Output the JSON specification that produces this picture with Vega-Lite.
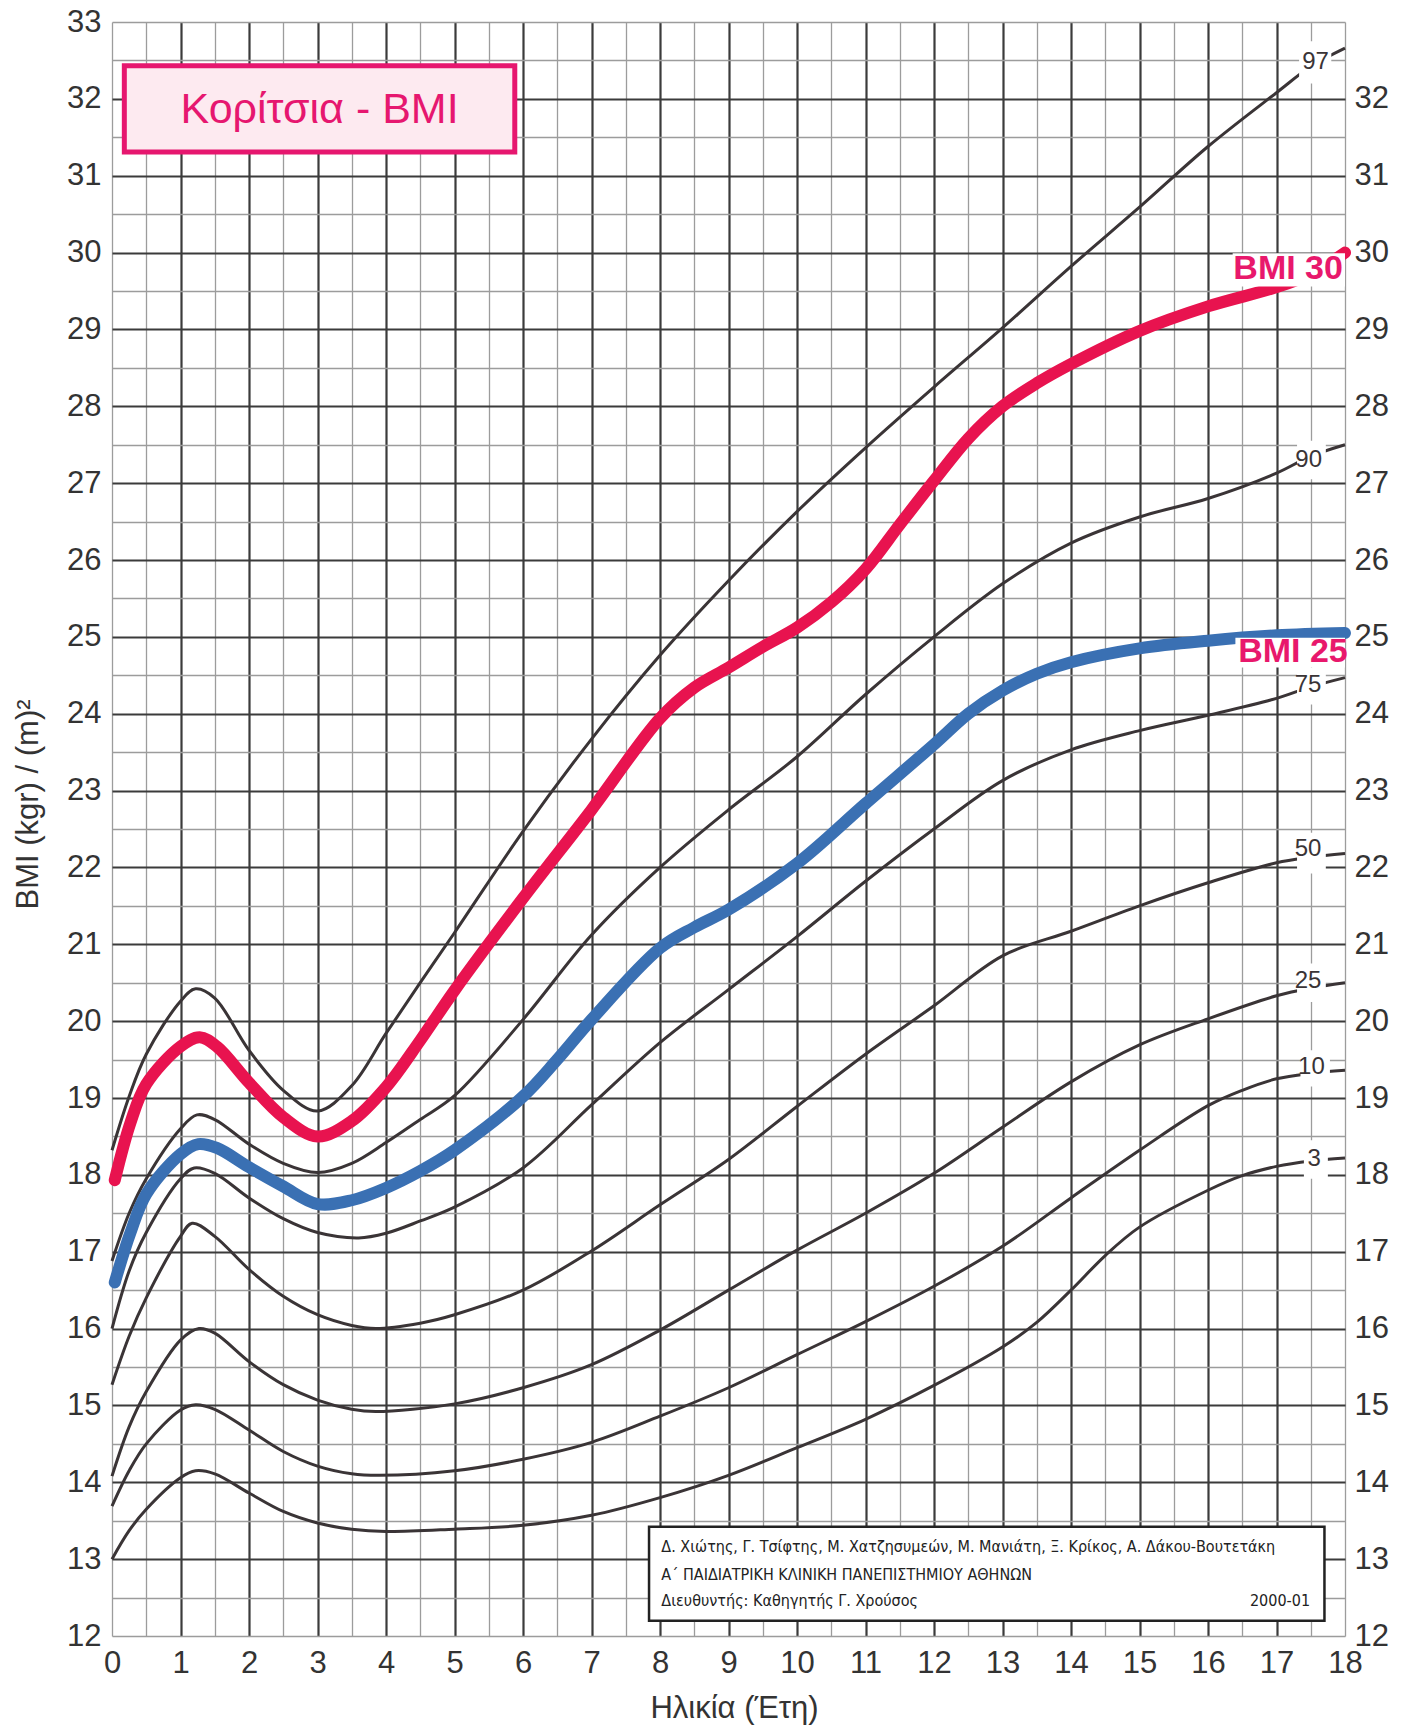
{
  "$schema": "https://vega.github.io/schema/vega-lite/v6.json",
  "width": 1233,
  "height": 1614,
  "autosize": {"type": "none"},
  "padding": {"left": 112, "top": 22, "right": 64, "bottom": 90},
  "background": "white",
  "config": {"view": {"stroke": null}, "font": "Liberation Sans"},
  "datasets": {
    "percentiles": [
      {"p": "97", "age": 0, "bmi": 18.32}, {"p": "97", "age": 0.25, "bmi": 19.02}, {"p": "97", "age": 0.5, "bmi": 19.57}, {"p": "97", "age": 1, "bmi": 20.26}, {"p": "97", "age": 1.22, "bmi": 20.42}, {"p": "97", "age": 1.5, "bmi": 20.3}, {"p": "97", "age": 2, "bmi": 19.62}, {"p": "97", "age": 2.5, "bmi": 19.1}, {"p": "97", "age": 3, "bmi": 18.83}, {"p": "97", "age": 3.5, "bmi": 19.16}, {"p": "97", "age": 4, "bmi": 19.84}, {"p": "97", "age": 4.5, "bmi": 20.5}, {"p": "97", "age": 5, "bmi": 21.15}, {"p": "97", "age": 6, "bmi": 22.47}, {"p": "97", "age": 7, "bmi": 23.67}, {"p": "97", "age": 8, "bmi": 24.76}, {"p": "97", "age": 9, "bmi": 25.73}, {"p": "97", "age": 10, "bmi": 26.63}, {"p": "97", "age": 11, "bmi": 27.46}, {"p": "97", "age": 12, "bmi": 28.25}, {"p": "97", "age": 13, "bmi": 29.02}, {"p": "97", "age": 14, "bmi": 29.82}, {"p": "97", "age": 15, "bmi": 30.59}, {"p": "97", "age": 16, "bmi": 31.38}, {"p": "97", "age": 17, "bmi": 32.08}, {"p": "97", "age": 17.5, "bmi": 32.42}, {"p": "97", "age": 18, "bmi": 32.66},
      {"p": "90", "age": 0, "bmi": 16.88}, {"p": "90", "age": 0.25, "bmi": 17.5}, {"p": "90", "age": 0.5, "bmi": 17.95}, {"p": "90", "age": 1, "bmi": 18.6}, {"p": "90", "age": 1.24, "bmi": 18.78}, {"p": "90", "age": 1.5, "bmi": 18.72}, {"p": "90", "age": 2, "bmi": 18.4}, {"p": "90", "age": 2.5, "bmi": 18.15}, {"p": "90", "age": 3, "bmi": 18.03}, {"p": "90", "age": 3.5, "bmi": 18.15}, {"p": "90", "age": 4, "bmi": 18.42}, {"p": "90", "age": 4.5, "bmi": 18.72}, {"p": "90", "age": 5, "bmi": 19.03}, {"p": "90", "age": 6, "bmi": 20.02}, {"p": "90", "age": 7, "bmi": 21.12}, {"p": "90", "age": 8, "bmi": 22.0}, {"p": "90", "age": 9, "bmi": 22.75}, {"p": "90", "age": 10, "bmi": 23.44}, {"p": "90", "age": 11, "bmi": 24.25}, {"p": "90", "age": 12, "bmi": 25.0}, {"p": "90", "age": 13, "bmi": 25.69}, {"p": "90", "age": 14, "bmi": 26.22}, {"p": "90", "age": 15, "bmi": 26.56}, {"p": "90", "age": 16, "bmi": 26.8}, {"p": "90", "age": 17, "bmi": 27.13}, {"p": "90", "age": 17.5, "bmi": 27.35}, {"p": "90", "age": 18, "bmi": 27.5},
      {"p": "75", "age": 0, "bmi": 16.0}, {"p": "75", "age": 0.25, "bmi": 16.75}, {"p": "75", "age": 0.5, "bmi": 17.25}, {"p": "75", "age": 1, "bmi": 17.95}, {"p": "75", "age": 1.2, "bmi": 18.09}, {"p": "75", "age": 1.5, "bmi": 18.02}, {"p": "75", "age": 2, "bmi": 17.7}, {"p": "75", "age": 2.5, "bmi": 17.43}, {"p": "75", "age": 3, "bmi": 17.25}, {"p": "75", "age": 3.6, "bmi": 17.18}, {"p": "75", "age": 4, "bmi": 17.24}, {"p": "75", "age": 4.5, "bmi": 17.4}, {"p": "75", "age": 5, "bmi": 17.58}, {"p": "75", "age": 6, "bmi": 18.09}, {"p": "75", "age": 7, "bmi": 18.91}, {"p": "75", "age": 8, "bmi": 19.72}, {"p": "75", "age": 9, "bmi": 20.41}, {"p": "75", "age": 10, "bmi": 21.1}, {"p": "75", "age": 11, "bmi": 21.82}, {"p": "75", "age": 12, "bmi": 22.5}, {"p": "75", "age": 13, "bmi": 23.13}, {"p": "75", "age": 14, "bmi": 23.53}, {"p": "75", "age": 15, "bmi": 23.78}, {"p": "75", "age": 16, "bmi": 23.98}, {"p": "75", "age": 17, "bmi": 24.2}, {"p": "75", "age": 17.5, "bmi": 24.35}, {"p": "75", "age": 18, "bmi": 24.47},
      {"p": "50", "age": 0, "bmi": 15.27}, {"p": "50", "age": 0.25, "bmi": 15.9}, {"p": "50", "age": 0.5, "bmi": 16.4}, {"p": "50", "age": 1, "bmi": 17.2}, {"p": "50", "age": 1.17, "bmi": 17.37}, {"p": "50", "age": 1.5, "bmi": 17.2}, {"p": "50", "age": 2, "bmi": 16.77}, {"p": "50", "age": 2.5, "bmi": 16.42}, {"p": "50", "age": 3, "bmi": 16.18}, {"p": "50", "age": 3.5, "bmi": 16.04}, {"p": "50", "age": 3.85, "bmi": 16.0}, {"p": "50", "age": 4.5, "bmi": 16.07}, {"p": "50", "age": 5, "bmi": 16.18}, {"p": "50", "age": 6, "bmi": 16.5}, {"p": "50", "age": 7, "bmi": 17.01}, {"p": "50", "age": 8, "bmi": 17.61}, {"p": "50", "age": 9, "bmi": 18.2}, {"p": "50", "age": 10, "bmi": 18.89}, {"p": "50", "age": 11, "bmi": 19.57}, {"p": "50", "age": 12, "bmi": 20.2}, {"p": "50", "age": 13, "bmi": 20.85}, {"p": "50", "age": 14, "bmi": 21.17}, {"p": "50", "age": 15, "bmi": 21.5}, {"p": "50", "age": 16, "bmi": 21.8}, {"p": "50", "age": 17, "bmi": 22.06}, {"p": "50", "age": 17.5, "bmi": 22.13}, {"p": "50", "age": 18, "bmi": 22.18},
      {"p": "25", "age": 0, "bmi": 14.08}, {"p": "25", "age": 0.25, "bmi": 14.72}, {"p": "25", "age": 0.5, "bmi": 15.18}, {"p": "25", "age": 1, "bmi": 15.85}, {"p": "25", "age": 1.27, "bmi": 16.0}, {"p": "25", "age": 1.5, "bmi": 15.94}, {"p": "25", "age": 2, "bmi": 15.57}, {"p": "25", "age": 2.5, "bmi": 15.27}, {"p": "25", "age": 3, "bmi": 15.07}, {"p": "25", "age": 3.5, "bmi": 14.95}, {"p": "25", "age": 3.85, "bmi": 14.92}, {"p": "25", "age": 5, "bmi": 15.02}, {"p": "25", "age": 6, "bmi": 15.23}, {"p": "25", "age": 7, "bmi": 15.53}, {"p": "25", "age": 8, "bmi": 15.98}, {"p": "25", "age": 9, "bmi": 16.5}, {"p": "25", "age": 10, "bmi": 17.02}, {"p": "25", "age": 11, "bmi": 17.5}, {"p": "25", "age": 12, "bmi": 18.02}, {"p": "25", "age": 13, "bmi": 18.62}, {"p": "25", "age": 14, "bmi": 19.21}, {"p": "25", "age": 15, "bmi": 19.69}, {"p": "25", "age": 16, "bmi": 20.03}, {"p": "25", "age": 17, "bmi": 20.33}, {"p": "25", "age": 17.5, "bmi": 20.43}, {"p": "25", "age": 18, "bmi": 20.5},
      {"p": "10", "age": 0, "bmi": 13.69}, {"p": "10", "age": 0.25, "bmi": 14.15}, {"p": "10", "age": 0.5, "bmi": 14.5}, {"p": "10", "age": 1, "bmi": 14.94}, {"p": "10", "age": 1.22, "bmi": 15.01}, {"p": "10", "age": 1.5, "bmi": 14.95}, {"p": "10", "age": 2, "bmi": 14.68}, {"p": "10", "age": 2.5, "bmi": 14.4}, {"p": "10", "age": 3, "bmi": 14.21}, {"p": "10", "age": 3.5, "bmi": 14.11}, {"p": "10", "age": 3.9, "bmi": 14.09}, {"p": "10", "age": 5, "bmi": 14.15}, {"p": "10", "age": 6, "bmi": 14.3}, {"p": "10", "age": 7, "bmi": 14.52}, {"p": "10", "age": 8, "bmi": 14.86}, {"p": "10", "age": 9, "bmi": 15.23}, {"p": "10", "age": 10, "bmi": 15.66}, {"p": "10", "age": 11, "bmi": 16.09}, {"p": "10", "age": 12, "bmi": 16.55}, {"p": "10", "age": 13, "bmi": 17.07}, {"p": "10", "age": 14, "bmi": 17.7}, {"p": "10", "age": 15, "bmi": 18.32}, {"p": "10", "age": 16, "bmi": 18.9}, {"p": "10", "age": 16.5, "bmi": 19.1}, {"p": "10", "age": 17, "bmi": 19.25}, {"p": "10", "age": 17.5, "bmi": 19.32}, {"p": "10", "age": 18, "bmi": 19.36},
      {"p": "3", "age": 0, "bmi": 13.0}, {"p": "3", "age": 0.25, "bmi": 13.37}, {"p": "3", "age": 0.5, "bmi": 13.65}, {"p": "3", "age": 1, "bmi": 14.06}, {"p": "3", "age": 1.22, "bmi": 14.15}, {"p": "3", "age": 1.5, "bmi": 14.11}, {"p": "3", "age": 2, "bmi": 13.86}, {"p": "3", "age": 2.5, "bmi": 13.62}, {"p": "3", "age": 3, "bmi": 13.47}, {"p": "3", "age": 3.5, "bmi": 13.39}, {"p": "3", "age": 4, "bmi": 13.36}, {"p": "3", "age": 5, "bmi": 13.39}, {"p": "3", "age": 6, "bmi": 13.44}, {"p": "3", "age": 7, "bmi": 13.57}, {"p": "3", "age": 8, "bmi": 13.8}, {"p": "3", "age": 9, "bmi": 14.09}, {"p": "3", "age": 10, "bmi": 14.45}, {"p": "3", "age": 11, "bmi": 14.82}, {"p": "3", "age": 12, "bmi": 15.26}, {"p": "3", "age": 13, "bmi": 15.76}, {"p": "3", "age": 13.5, "bmi": 16.08}, {"p": "3", "age": 14, "bmi": 16.5}, {"p": "3", "age": 14.5, "bmi": 16.95}, {"p": "3", "age": 15, "bmi": 17.32}, {"p": "3", "age": 16, "bmi": 17.8}, {"p": "3", "age": 16.5, "bmi": 17.99}, {"p": "3", "age": 17, "bmi": 18.11}, {"p": "3", "age": 17.5, "bmi": 18.18}, {"p": "3", "age": 18, "bmi": 18.22}
    ],
    "cutoffs": [
      {"line": "BMI 30", "age": 0.04, "bmi": 17.93}, {"line": "BMI 30", "age": 0.27, "bmi": 18.68}, {"line": "BMI 30", "age": 0.5, "bmi": 19.18}, {"line": "BMI 30", "age": 1, "bmi": 19.67}, {"line": "BMI 30", "age": 1.28, "bmi": 19.79}, {"line": "BMI 30", "age": 1.53, "bmi": 19.67}, {"line": "BMI 30", "age": 2, "bmi": 19.2}, {"line": "BMI 30", "age": 2.5, "bmi": 18.75}, {"line": "BMI 30", "age": 3, "bmi": 18.5}, {"line": "BMI 30", "age": 3.5, "bmi": 18.7}, {"line": "BMI 30", "age": 4, "bmi": 19.14}, {"line": "BMI 30", "age": 4.5, "bmi": 19.75}, {"line": "BMI 30", "age": 5, "bmi": 20.4}, {"line": "BMI 30", "age": 6, "bmi": 21.6}, {"line": "BMI 30", "age": 7, "bmi": 22.75}, {"line": "BMI 30", "age": 8, "bmi": 23.94}, {"line": "BMI 30", "age": 8.5, "bmi": 24.34}, {"line": "BMI 30", "age": 9, "bmi": 24.6}, {"line": "BMI 30", "age": 9.5, "bmi": 24.87}, {"line": "BMI 30", "age": 10, "bmi": 25.12}, {"line": "BMI 30", "age": 10.5, "bmi": 25.45}, {"line": "BMI 30", "age": 11, "bmi": 25.88}, {"line": "BMI 30", "age": 11.5, "bmi": 26.46}, {"line": "BMI 30", "age": 12, "bmi": 27.03}, {"line": "BMI 30", "age": 12.5, "bmi": 27.58}, {"line": "BMI 30", "age": 13, "bmi": 28.0}, {"line": "BMI 30", "age": 13.5, "bmi": 28.3}, {"line": "BMI 30", "age": 14, "bmi": 28.55}, {"line": "BMI 30", "age": 15, "bmi": 28.98}, {"line": "BMI 30", "age": 16, "bmi": 29.3}, {"line": "BMI 30", "age": 17, "bmi": 29.55}, {"line": "BMI 30", "age": 17.5, "bmi": 29.72}, {"line": "BMI 30", "age": 18, "bmi": 30.0},
      {"line": "BMI 25", "age": 0.04, "bmi": 16.6}, {"line": "BMI 25", "age": 0.27, "bmi": 17.25}, {"line": "BMI 25", "age": 0.5, "bmi": 17.75}, {"line": "BMI 25", "age": 1, "bmi": 18.27}, {"line": "BMI 25", "age": 1.26, "bmi": 18.4}, {"line": "BMI 25", "age": 1.53, "bmi": 18.35}, {"line": "BMI 25", "age": 2, "bmi": 18.1}, {"line": "BMI 25", "age": 2.5, "bmi": 17.85}, {"line": "BMI 25", "age": 3, "bmi": 17.62}, {"line": "BMI 25", "age": 3.5, "bmi": 17.67}, {"line": "BMI 25", "age": 4, "bmi": 17.83}, {"line": "BMI 25", "age": 4.5, "bmi": 18.05}, {"line": "BMI 25", "age": 5, "bmi": 18.32}, {"line": "BMI 25", "age": 6, "bmi": 19.02}, {"line": "BMI 25", "age": 6.5, "bmi": 19.5}, {"line": "BMI 25", "age": 7, "bmi": 20.02}, {"line": "BMI 25", "age": 8, "bmi": 20.95}, {"line": "BMI 25", "age": 8.5, "bmi": 21.22}, {"line": "BMI 25", "age": 9, "bmi": 21.45}, {"line": "BMI 25", "age": 10, "bmi": 22.05}, {"line": "BMI 25", "age": 11, "bmi": 22.83}, {"line": "BMI 25", "age": 12, "bmi": 23.6}, {"line": "BMI 25", "age": 12.5, "bmi": 24.0}, {"line": "BMI 25", "age": 13, "bmi": 24.3}, {"line": "BMI 25", "age": 13.5, "bmi": 24.52}, {"line": "BMI 25", "age": 14, "bmi": 24.67}, {"line": "BMI 25", "age": 15, "bmi": 24.85}, {"line": "BMI 25", "age": 16, "bmi": 24.95}, {"line": "BMI 25", "age": 17, "bmi": 25.02}, {"line": "BMI 25", "age": 18, "bmi": 25.05}
    ]
  },
  "resolve": {"axis": {"x": "independent", "y": "independent"}},
  "layer": [
    {
      "data": {"name": "percentiles"},
      "mark": {"type": "line", "interpolate": "catmull-rom", "color": "#3a3436", "strokeWidth": 3},
      "encoding": {
        "x": {"field": "age", "type": "quantitative", "scale": {"domain": [0, 18], "nice": false, "zero": false},
          "axis": {"orient": "bottom", "values": [0, 0.5, 1.5, 2.5, 3.5, 4.5, 5.5, 6.5, 7.5, 8.5, 9.5, 10.5, 11.5, 12.5, 13.5, 14.5, 15.5, 16.5, 17.5, 18], "grid": true, "gridColor": "#9c9c9c", "gridWidth": 1.3, "labels": false, "ticks": false, "domain": false, "title": null}},
        "y": {"field": "bmi", "type": "quantitative", "scale": {"domain": [12, 33], "nice": false, "zero": false},
          "axis": {"orient": "left", "values": [12, 12.5, 13.5, 14.5, 15.5, 16.5, 17.5, 18.5, 19.5, 20.5, 21.5, 22.5, 23.5, 24.5, 25.5, 26.5, 27.5, 28.5, 29.5, 30.5, 31.5, 32.5, 33], "grid": true, "gridColor": "#9c9c9c", "gridWidth": 1.3, "labels": false, "ticks": false, "domain": false, "title": null}},
        "detail": {"field": "p", "type": "nominal"}
      }
    },
    {
      "data": {"name": "cutoffs"},
      "mark": {"type": "line", "interpolate": "catmull-rom", "strokeWidth": 12, "strokeCap": "round"},
      "encoding": {
        "x": {"field": "age", "type": "quantitative", "scale": {"domain": [0, 18], "nice": false, "zero": false},
          "axis": {"orient": "bottom", "values": [1, 2, 3, 4, 5, 6, 7, 8, 9, 10, 11, 12, 13, 14, 15, 16, 17], "grid": true, "gridColor": "#3b3b3b", "gridWidth": 2.2, "labels": false, "ticks": false, "domain": false, "title": null}},
        "y": {"field": "bmi", "type": "quantitative", "scale": {"domain": [12, 33], "nice": false, "zero": false},
          "axis": {"orient": "left", "values": [13, 14, 15, 16, 17, 18, 19, 20, 21, 22, 23, 24, 25, 26, 27, 28, 29, 30, 31, 32], "grid": true, "gridColor": "#3b3b3b", "gridWidth": 2.2, "labels": false, "ticks": false, "domain": false, "title": null}},
        "color": {"field": "line", "type": "nominal", "scale": {"domain": ["BMI 30", "BMI 25"], "range": ["#e8134f", "#3a70b3"]}, "legend": null}
      }
    },
    {
      "data": {"values": [
        {"x1": 17.33, "x2": 17.8, "y1": 32.2, "y2": 32.75},
        {"x1": 17.3, "x2": 17.72, "y1": 27.05, "y2": 27.55},
        {"x1": 17.3, "x2": 17.72, "y1": 24.12, "y2": 24.6},
        {"x1": 17.3, "x2": 17.72, "y1": 21.92, "y2": 22.45},
        {"x1": 17.3, "x2": 17.72, "y1": 20.25, "y2": 20.75},
        {"x1": 17.35, "x2": 17.78, "y1": 19.15, "y2": 19.62},
        {"x1": 17.4, "x2": 17.75, "y1": 17.95, "y2": 18.45},
        {"x1": 16.36, "x2": 18, "y1": 29.56, "y2": 29.99},
        {"x1": 16.4, "x2": 18, "y1": 24.6, "y2": 24.99}
      ]},
      "mark": {"type": "rect", "fill": "white"},
      "encoding": {
        "x": {"field": "x1", "type": "quantitative", "scale": {"domain": [0, 18], "nice": false, "zero": false},
          "axis": {"orient": "bottom", "values": [0, 1, 2, 3, 4, 5, 6, 7, 8, 9, 10, 11, 12, 13, 14, 15, 16, 17, 18], "grid": false, "ticks": false, "domain": false, "labelFlush": false, "labelFontSize": 31, "labelColor": "#333333", "labelPadding": 12, "labelFont": "Liberation Sans",
            "title": "Ηλικία (Έτη)", "titleFontSize": 31, "titleFontWeight": "normal", "titleColor": "#333333", "titleFont": "Liberation Sans", "titleBaseline": "middle", "titleX": 622, "titleY": 72}},
        "x2": {"field": "x2"},
        "y": {"field": "y1", "type": "quantitative", "scale": {"domain": [12, 33], "nice": false, "zero": false},
          "axis": {"orient": "left", "values": [12, 13, 14, 15, 16, 17, 18, 19, 20, 21, 22, 23, 24, 25, 26, 27, 28, 29, 30, 31, 32, 33], "grid": false, "ticks": false, "domain": false, "labelFlush": false, "labelFontSize": 31, "labelColor": "#333333", "labelPadding": 11, "labelFont": "Liberation Sans",
            "title": "BMI (kgr) / (m)²", "titleFontSize": 31, "titleFontWeight": "normal", "titleColor": "#333333", "titleFont": "Liberation Sans", "titleBaseline": "middle", "titleAngle": -90, "titleX": -84, "titleY": 782}},
        "y2": {"field": "y2"}
      }
    },
    {
      "data": {"values": [
        {"label": "97", "age": 17.57, "bmi": 32.48},
        {"label": "90", "age": 17.47, "bmi": 27.3},
        {"label": "75", "age": 17.46, "bmi": 24.38},
        {"label": "50", "age": 17.46, "bmi": 22.24},
        {"label": "25", "age": 17.46, "bmi": 20.52},
        {"label": "10", "age": 17.51, "bmi": 19.4},
        {"label": "3", "age": 17.55, "bmi": 18.2}
      ]},
      "mark": {"type": "text", "fontSize": 24, "color": "#3a3436", "align": "center", "baseline": "middle"},
      "encoding": {
        "x": {"field": "age", "type": "quantitative", "scale": {"domain": [0, 18], "nice": false, "zero": false}, "axis": null},
        "y": {"field": "bmi", "type": "quantitative", "scale": {"domain": [12, 33], "nice": false, "zero": false},
          "axis": {"orient": "right", "values": [12, 13, 14, 15, 16, 17, 18, 19, 20, 21, 22, 23, 24, 25, 26, 27, 28, 29, 30, 31, 32], "grid": false, "ticks": false, "domain": false, "labelFlush": false, "labelFontSize": 31, "labelColor": "#333333", "labelPadding": 9, "labelFont": "Liberation Sans", "title": null}},
        "text": {"field": "label"}
      }
    },
    {
      "data": {"values": [
        {"label": "BMI 30", "age": 17.17, "bmi": 29.78},
        {"label": "BMI 25", "age": 17.24, "bmi": 24.8}
      ]},
      "mark": {"type": "text", "fontSize": 34, "fontWeight": "bold", "color": "#e8186c", "align": "center", "baseline": "middle"},
      "encoding": {
        "x": {"field": "age", "type": "quantitative", "scale": {"domain": [0, 18], "nice": false, "zero": false}, "axis": null},
        "y": {"field": "bmi", "type": "quantitative", "scale": {"domain": [12, 33], "nice": false, "zero": false}, "axis": null},
        "text": {"field": "label"}
      }
    },
    {
      "data": {"values": [{"x1": 0.18, "x2": 5.88, "y1": 31.31, "y2": 32.43}]},
      "mark": {"type": "rect", "fill": "#fdeaf0", "stroke": "#e6176f", "strokeWidth": 5},
      "encoding": {
        "x": {"field": "x1", "type": "quantitative", "scale": {"domain": [0, 18], "nice": false, "zero": false}, "axis": null},
        "x2": {"field": "x2"},
        "y": {"field": "y1", "type": "quantitative", "scale": {"domain": [12, 33], "nice": false, "zero": false}, "axis": null},
        "y2": {"field": "y2"}
      }
    },
    {
      "data": {"values": [{"label": "Κορίτσια - BMI", "age": 3.03, "bmi": 31.85}]},
      "mark": {"type": "text", "fontSize": 43, "color": "#e6176f", "align": "center", "baseline": "middle"},
      "encoding": {
        "x": {"field": "age", "type": "quantitative", "scale": {"domain": [0, 18], "nice": false, "zero": false}, "axis": null},
        "y": {"field": "bmi", "type": "quantitative", "scale": {"domain": [12, 33], "nice": false, "zero": false}, "axis": null},
        "text": {"field": "label"}
      }
    },
    {
      "data": {"values": [{"x1": 7.84, "x2": 17.7, "y1": 12.2, "y2": 13.42}]},
      "mark": {"type": "rect", "fill": "white", "stroke": "#222222", "strokeWidth": 2.5},
      "encoding": {
        "x": {"field": "x1", "type": "quantitative", "scale": {"domain": [0, 18], "nice": false, "zero": false}, "axis": null},
        "x2": {"field": "x2"},
        "y": {"field": "y1", "type": "quantitative", "scale": {"domain": [12, 33], "nice": false, "zero": false}, "axis": null},
        "y2": {"field": "y2"}
      }
    },
    {
      "data": {"values": [
        {"label": "Δ. Χιώτης, Γ. Τσίφτης, Μ. Χατζησυμεών, Μ. Μανιάτη, Ξ. Κρίκος, Α. Δάκου-Βουτετάκη", "age": 8.02, "bmi": 13.16},
        {"label": "Α΄ ΠΑΙΔΙΑΤΡΙΚΗ ΚΛΙΝΙΚΗ ΠΑΝΕΠΙΣΤΗΜΙΟΥ ΑΘΗΝΩΝ", "age": 8.02, "bmi": 12.8},
        {"label": "Διευθυντής: Καθηγητής Γ. Χρούσος", "age": 8.02, "bmi": 12.46}
      ]},
      "mark": {"type": "text", "fontSize": 16, "font": "DejaVu Sans Condensed, sans-serif", "color": "#222222", "align": "left", "baseline": "middle"},
      "encoding": {
        "x": {"field": "age", "type": "quantitative", "scale": {"domain": [0, 18], "nice": false, "zero": false}, "axis": null},
        "y": {"field": "bmi", "type": "quantitative", "scale": {"domain": [12, 33], "nice": false, "zero": false}, "axis": null},
        "text": {"field": "label"}
      }
    },
    {
      "data": {"values": [{"label": "2000-01", "age": 17.49, "bmi": 12.46}]},
      "mark": {"type": "text", "fontSize": 16, "font": "DejaVu Sans Condensed, sans-serif", "color": "#222222", "align": "right", "baseline": "middle"},
      "encoding": {
        "x": {"field": "age", "type": "quantitative", "scale": {"domain": [0, 18], "nice": false, "zero": false}, "axis": null},
        "y": {"field": "bmi", "type": "quantitative", "scale": {"domain": [12, 33], "nice": false, "zero": false}, "axis": null},
        "text": {"field": "label"}
      }
    }
  ]
}
